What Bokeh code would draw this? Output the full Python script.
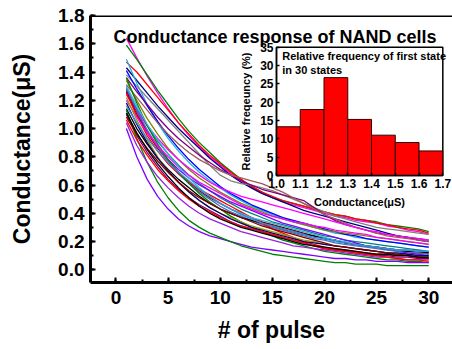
from bokeh.plotting import figure
from bokeh.models import (Range1d, LinearAxis, SingleIntervalTicker, FixedTicker,
                          PrintfTickFormatter, Span, Label)
from bokeh.embed import file_html
from bokeh.resources import INLINE

FONT = "Liberation Sans"

# ---------------- data ----------------
pulse = [1, 2, 3, 4, 5, 6, 7, 8, 9, 10, 11, 12, 13, 14, 15,
         16, 17, 18, 19, 20, 21, 22, 23, 24, 25, 26, 27, 28, 29, 30]

g01 = [1.64, 1.50, 1.37, 1.25, 1.14, 1.04, 0.95, 0.87, 0.80, 0.74, 0.68, 0.63, 0.58, 0.54, 0.51, 0.48, 0.46, 0.44, 0.42, 0.40, 0.38, 0.37, 0.35, 0.34, 0.33, 0.31, 0.30, 0.28, 0.27, 0.25]
g02 = [1.59, 1.49, 1.38, 1.27, 1.17, 1.07, 0.98, 0.90, 0.83, 0.76, 0.70, 0.64, 0.59, 0.55, 0.51, 0.49, 0.47, 0.45, 0.43, 0.41, 0.39, 0.38, 0.36, 0.35, 0.34, 0.32, 0.31, 0.30, 0.29, 0.27]
g03 = [1.47, 1.40, 1.31, 1.22, 1.13, 1.04, 0.96, 0.88, 0.81, 0.75, 0.69, 0.64, 0.59, 0.55, 0.52, 0.49, 0.47, 0.45, 0.43, 0.41, 0.39, 0.38, 0.36, 0.35, 0.33, 0.32, 0.30, 0.29, 0.28, 0.26]
g04 = [1.43, 1.34, 1.25, 1.16, 1.08, 1.00, 0.93, 0.86, 0.79, 0.73, 0.67, 0.62, 0.58, 0.54, 0.51, 0.48, 0.45, 0.42, 0.40, 0.38, 0.36, 0.34, 0.32, 0.30, 0.28, 0.26, 0.24, 0.23, 0.21, 0.20]
g05 = [1.49, 1.32, 1.17, 1.04, 0.93, 0.84, 0.76, 0.69, 0.63, 0.58, 0.53, 0.49, 0.45, 0.42, 0.39, 0.37, 0.34, 0.32, 0.30, 0.28, 0.26, 0.25, 0.23, 0.22, 0.21, 0.20, 0.19, 0.18, 0.17, 0.16]
g06 = [1.38, 1.30, 1.22, 1.14, 1.06, 0.98, 0.90, 0.82, 0.74, 0.67, 0.63, 0.61, 0.60, 0.58, 0.56, 0.53, 0.50, 0.47, 0.44, 0.41, 0.38, 0.36, 0.34, 0.32, 0.30, 0.29, 0.28, 0.27, 0.26, 0.25]
g07 = [1.41, 1.28, 1.16, 1.05, 0.95, 0.86, 0.78, 0.71, 0.65, 0.59, 0.54, 0.50, 0.46, 0.43, 0.40, 0.37, 0.35, 0.33, 0.31, 0.29, 0.27, 0.25, 0.24, 0.22, 0.21, 0.20, 0.19, 0.18, 0.17, 0.16]
g08 = [1.36, 1.26, 1.17, 1.08, 1.00, 0.93, 0.87, 0.81, 0.76, 0.71, 0.67, 0.63, 0.60, 0.57, 0.55, 0.53, 0.51, 0.49, 0.44, 0.39, 0.35, 0.32, 0.30, 0.28, 0.26, 0.25, 0.24, 0.23, 0.22, 0.21]
g09 = [1.31, 1.22, 1.13, 1.04, 0.96, 0.89, 0.83, 0.78, 0.74, 0.70, 0.67, 0.65, 0.63, 0.61, 0.58, 0.55, 0.51, 0.47, 0.43, 0.39, 0.36, 0.33, 0.30, 0.28, 0.26, 0.24, 0.23, 0.22, 0.21, 0.20]
g10 = [1.34, 1.20, 1.07, 0.96, 0.86, 0.78, 0.71, 0.65, 0.60, 0.55, 0.51, 0.47, 0.44, 0.41, 0.38, 0.36, 0.34, 0.32, 0.30, 0.28, 0.27, 0.26, 0.25, 0.24, 0.23, 0.22, 0.21, 0.20, 0.19, 0.18]
g11 = [1.28, 1.14, 1.02, 0.91, 0.82, 0.74, 0.67, 0.61, 0.56, 0.51, 0.47, 0.43, 0.40, 0.37, 0.34, 0.32, 0.30, 0.28, 0.26, 0.24, 0.23, 0.21, 0.20, 0.19, 0.18, 0.17, 0.16, 0.15, 0.14, 0.13]
g12 = [1.24, 1.13, 1.02, 0.93, 0.85, 0.78, 0.72, 0.67, 0.62, 0.58, 0.55, 0.52, 0.50, 0.48, 0.46, 0.44, 0.42, 0.40, 0.38, 0.36, 0.34, 0.32, 0.30, 0.28, 0.27, 0.25, 0.24, 0.23, 0.22, 0.21]
g13 = [1.27, 1.12, 0.98, 0.87, 0.78, 0.71, 0.65, 0.60, 0.56, 0.52, 0.48, 0.45, 0.42, 0.39, 0.36, 0.33, 0.31, 0.29, 0.27, 0.25, 0.23, 0.21, 0.19, 0.17, 0.16, 0.15, 0.13, 0.12, 0.11, 0.10]
g14 = [1.26, 1.10, 0.97, 0.86, 0.77, 0.69, 0.62, 0.56, 0.51, 0.47, 0.43, 0.40, 0.37, 0.34, 0.32, 0.30, 0.28, 0.26, 0.24, 0.22, 0.21, 0.19, 0.18, 0.17, 0.16, 0.15, 0.14, 0.13, 0.12, 0.12]
g15 = [1.29, 1.13, 0.99, 0.87, 0.77, 0.68, 0.61, 0.55, 0.50, 0.45, 0.41, 0.38, 0.35, 0.32, 0.30, 0.28, 0.26, 0.24, 0.22, 0.21, 0.19, 0.18, 0.17, 0.16, 0.15, 0.14, 0.13, 0.13, 0.12, 0.11]
g16 = [1.14, 1.00, 0.89, 0.79, 0.71, 0.64, 0.58, 0.52, 0.47, 0.43, 0.40, 0.37, 0.35, 0.33, 0.31, 0.29, 0.27, 0.25, 0.24, 0.22, 0.21, 0.19, 0.18, 0.17, 0.16, 0.15, 0.14, 0.13, 0.13, 0.12]
g17 = [1.25, 1.09, 0.95, 0.84, 0.75, 0.68, 0.62, 0.57, 0.53, 0.49, 0.45, 0.41, 0.37, 0.33, 0.29, 0.26, 0.23, 0.20, 0.18, 0.16, 0.15, 0.14, 0.13, 0.12, 0.11, 0.11, 0.10, 0.10, 0.09, 0.09]
g18 = [1.36, 1.18, 1.02, 0.89, 0.78, 0.69, 0.61, 0.54, 0.48, 0.43, 0.38, 0.34, 0.30, 0.27, 0.24, 0.21, 0.19, 0.17, 0.15, 0.13, 0.12, 0.11, 0.10, 0.09, 0.08, 0.07, 0.07, 0.06, 0.06, 0.05]
g19 = [1.20, 1.08, 0.97, 0.88, 0.80, 0.73, 0.67, 0.62, 0.58, 0.54, 0.50, 0.46, 0.43, 0.40, 0.38, 0.36, 0.34, 0.33, 0.31, 0.30, 0.28, 0.27, 0.26, 0.25, 0.23, 0.22, 0.21, 0.20, 0.19, 0.18]
g20 = [1.22, 1.06, 0.92, 0.80, 0.70, 0.62, 0.55, 0.49, 0.44, 0.40, 0.37, 0.34, 0.31, 0.29, 0.27, 0.25, 0.23, 0.21, 0.20, 0.18, 0.17, 0.16, 0.15, 0.14, 0.13, 0.12, 0.11, 0.11, 0.10, 0.09]
g21 = [1.30, 1.16, 1.03, 0.92, 0.82, 0.73, 0.65, 0.58, 0.52, 0.47, 0.43, 0.40, 0.37, 0.35, 0.33, 0.31, 0.29, 0.27, 0.25, 0.23, 0.21, 0.20, 0.18, 0.17, 0.16, 0.15, 0.14, 0.14, 0.13, 0.13]
g22 = [1.10, 0.95, 0.83, 0.73, 0.64, 0.57, 0.51, 0.46, 0.42, 0.38, 0.34, 0.31, 0.29, 0.27, 0.25, 0.23, 0.21, 0.19, 0.17, 0.15, 0.14, 0.13, 0.12, 0.11, 0.10, 0.10, 0.09, 0.09, 0.08, 0.08]
g23 = [1.00, 0.80, 0.64, 0.52, 0.43, 0.36, 0.31, 0.27, 0.24, 0.22, 0.20, 0.18, 0.16, 0.15, 0.14, 0.13, 0.12, 0.11, 0.10, 0.09, 0.08, 0.08, 0.07, 0.07, 0.06, 0.06, 0.06, 0.05, 0.05, 0.05]
g24 = [1.13, 0.93, 0.76, 0.62, 0.51, 0.42, 0.35, 0.30, 0.26, 0.23, 0.20, 0.17, 0.15, 0.13, 0.11, 0.10, 0.09, 0.08, 0.07, 0.06, 0.05, 0.05, 0.04, 0.04, 0.04, 0.03, 0.03, 0.03, 0.03, 0.03]
g25 = [1.18, 1.03, 0.90, 0.79, 0.70, 0.62, 0.55, 0.49, 0.44, 0.40, 0.36, 0.33, 0.30, 0.28, 0.26, 0.24, 0.22, 0.20, 0.19, 0.18, 0.17, 0.16, 0.15, 0.14, 0.13, 0.12, 0.12, 0.11, 0.10, 0.10]
g26 = [1.08, 0.96, 0.86, 0.77, 0.69, 0.62, 0.56, 0.51, 0.47, 0.43, 0.40, 0.37, 0.34, 0.31, 0.29, 0.27, 0.25, 0.23, 0.21, 0.19, 0.17, 0.16, 0.15, 0.14, 0.13, 0.12, 0.11, 0.10, 0.09, 0.08]
g27 = [1.16, 1.04, 0.93, 0.84, 0.76, 0.69, 0.63, 0.57, 0.52, 0.47, 0.43, 0.39, 0.36, 0.33, 0.31, 0.29, 0.27, 0.25, 0.23, 0.22, 0.20, 0.19, 0.18, 0.17, 0.16, 0.15, 0.14, 0.14, 0.13, 0.13]
g28 = [1.04, 0.88, 0.76, 0.66, 0.58, 0.51, 0.45, 0.40, 0.36, 0.33, 0.30, 0.27, 0.25, 0.23, 0.21, 0.19, 0.17, 0.16, 0.15, 0.14, 0.13, 0.12, 0.11, 0.10, 0.09, 0.09, 0.08, 0.07, 0.07, 0.07]
g29 = [1.06, 0.92, 0.81, 0.71, 0.63, 0.56, 0.50, 0.45, 0.41, 0.37, 0.34, 0.31, 0.29, 0.27, 0.25, 0.23, 0.21, 0.19, 0.17, 0.15, 0.14, 0.13, 0.12, 0.11, 0.10, 0.09, 0.08, 0.07, 0.07, 0.06]
g30 = [1.11, 0.97, 0.85, 0.75, 0.66, 0.58, 0.51, 0.45, 0.40, 0.36, 0.33, 0.30, 0.28, 0.26, 0.24, 0.22, 0.20, 0.18, 0.17, 0.16, 0.15, 0.14, 0.13, 0.12, 0.11, 0.11, 0.10, 0.10, 0.09, 0.09]

curves = [g01, g02, g03, g04, g05, g06, g07, g08, g09, g10,
          g11, g12, g13, g14, g15, g16, g17, g18, g19, g20,
          g21, g22, g23, g24, g25, g26, g27, g28, g29, g30]
curve_colors = ["#FF00FF", "#008000", "#FF0000", "#000080", "#22B0E0", "#808080",
                "#0000FF", "#800080", "#A05A5A", "#808000", "#008080", "#FF00FF",
                "#8000FF", "#800000", "#4A6FC0", "#000000", "#FF0000", "#008000",
                "#FF00FF", "#999900", "#30B8D8", "#800080", "#8000FF", "#008000",
                "#000080", "#800000", "#3C8CE0", "#9A20E0", "#FF0000", "#000000"]

x_ticks_main = [0, 5, 10, 15, 20, 25, 30]

# inset histogram
bin_left = [1.0, 1.1, 1.2, 1.3, 1.4, 1.5, 1.6]
bin_right = [1.1, 1.2, 1.3, 1.4, 1.5, 1.6, 1.7]
freq = [13.3, 18.0, 26.7, 15.3, 11.0, 9.0, 6.7]
inset_xticks = [1.0, 1.1, 1.2, 1.3, 1.4, 1.5, 1.6, 1.7]
inset_yticks = [0, 5, 10, 15, 20, 25, 30, 35]
inset_xlim = [1.0, 1.7]
inset_ylim = [0, 35]

# ---------------- figure ----------------
p = figure(width=452, height=349, output_backend="svg", toolbar_location=None,
           x_range=Range1d(-2.44, 32.28), y_range=Range1d(-0.09, 1.8),
           min_border_left=90, min_border_right=0, min_border_top=15,
           min_border_bottom=67)
p.outline_line_color = None
p.grid.visible = False
p.background_fill_color = "white"
p.border_fill_color = "white"

xa = p.below[0]
ya = p.left[0]
xa.ticker = SingleIntervalTicker(interval=5, num_minor_ticks=2)
ya.ticker = SingleIntervalTicker(interval=0.2, num_minor_ticks=2)
ya.formatter = PrintfTickFormatter(format="%.1f")
for ax in (xa, ya):
    ax.axis_line_width = 3
    ax.axis_line_color = "black"
    ax.major_tick_in = 5
    ax.major_tick_out = 0
    ax.minor_tick_in = 3
    ax.minor_tick_out = 0
    ax.major_tick_line_width = 2
    ax.minor_tick_line_width = 2
    ax.major_label_text_font = FONT
    ax.major_label_text_font_style = "bold"
    ax.major_label_text_font_size = "19px"
    ax.major_label_text_color = "black"
    ax.axis_label_text_font = FONT
    ax.axis_label_text_font_style = "bold"
    ax.axis_label_text_font_size = "23px"
    ax.axis_label_text_color = "black"
xa.axis_label = "# of pulse"
ya.axis_label = "Conductance(μS)"
xa.major_label_standoff = 8
xa.axis_label_standoff = 10
ya.major_label_standoff = 6
ya.axis_label_standoff = 20

p.add_layout(Span(location=1.8, dimension="width", line_color="black", line_width=3))

for g, c in zip(curves, curve_colors):
    p.line(pulse, g, line_color=c, line_width=1.3)

p.add_layout(Label(x=-0.24, y=1.648, text="Conductance response of  NAND cells",
                   text_font=FONT, text_font_style="bold", text_font_size="18px",
                   text_color="black", text_baseline="alphabetic"))

# ---------------- inset ----------------
p.extra_x_ranges = {"ix": Range1d(0.2172, 1.7408)}
p.extra_y_ranges = {"iy": Range1d(-29.19, 43.65)}

p.quad(left=inset_xlim[0], right=inset_xlim[1], bottom=inset_ylim[0], top=inset_ylim[1],
       fill_color="white", line_color="black", line_width=1.5,
       x_range_name="ix", y_range_name="iy")
p.quad(left=bin_left, right=bin_right, bottom=0, top=freq,
       fill_color="#FF0000", line_color="#300000", line_width=1,
       x_range_name="ix", y_range_name="iy")

ixa = LinearAxis(x_range_name="ix", y_range_name="iy", fixed_location=inset_ylim[0],
                 bounds=(inset_xlim[0], inset_xlim[1]),
                 ticker=FixedTicker(ticks=inset_xticks),
                 formatter=PrintfTickFormatter(format="%.1f"),
                 axis_label="Conductance(μS)")
iya = LinearAxis(x_range_name="ix", y_range_name="iy", fixed_location=inset_xlim[0],
                 bounds=(inset_ylim[0], inset_ylim[1]),
                 ticker=FixedTicker(ticks=inset_yticks),
                 formatter=PrintfTickFormatter(format="%d"),
                 axis_label="Relative freqeuncy (%)")
for ax in (ixa, iya):
    ax.axis_line_width = 1.5
    ax.major_tick_in = 3
    ax.major_tick_out = 0
    ax.major_tick_line_width = 1.5
    ax.minor_tick_line_color = None
    ax.major_label_text_font = FONT
    ax.major_label_text_font_style = "bold"
    ax.major_label_text_font_size = "12px"
    ax.major_label_text_color = "black"
    ax.axis_label_text_font = FONT
    ax.axis_label_text_font_style = "bold"
    ax.axis_label_text_font_size = "11px"
    ax.axis_label_text_color = "black"
ixa.major_label_standoff = 3
ixa.axis_label_standoff = 5
iya.major_label_standoff = 3
iya.axis_label_standoff = 5
p.add_layout(ixa, "below")
p.add_layout(iya, "left")

p.add_layout(Label(x=1.024, y=32.7, x_range_name="ix", y_range_name="iy",
                   text="Relative frequency of first state", text_font=FONT,
                   text_font_style="bold", text_font_size="11px", text_color="black",
                   text_baseline="middle"))
p.add_layout(Label(x=1.024, y=28.9, x_range_name="ix", y_range_name="iy",
                   text="in 30 states", text_font=FONT,
                   text_font_style="bold", text_font_size="11px", text_color="black",
                   text_baseline="middle"))

open("out.html", "w").write(file_html(p, INLINE))
